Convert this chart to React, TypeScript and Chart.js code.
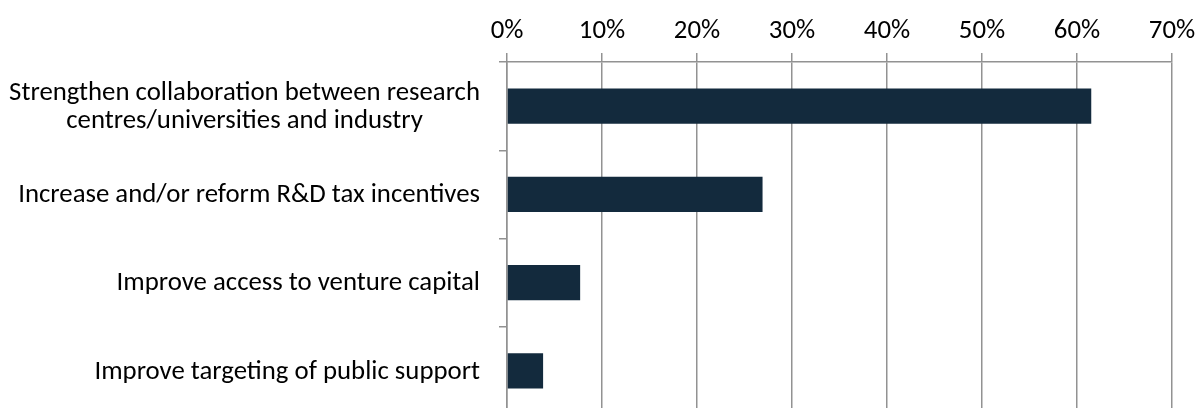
import React, { useEffect, useRef } from 'react';
import { Chart, registerables } from 'chart.js';

Chart.register(...registerables);

const categories: string[][] = [
  ['Strengthen collaboration between research', 'centres/universities and industry'],
  ['Increase and/or reform R&D tax incentives'],
  ['Improve access to venture capital'],
  ['Improve targeting of public support'],
];
const values: number[] = [61.5, 26.9, 7.7, 3.8];
const xMin = 0;
const xMax = 70;
const xStep = 10;

const FONT_FAMILY = 'Carlito, Calibri, "Open Sans", sans-serif';
const FONT_SIZE = 26.8;
const GRID = '#929292';
const BAR = '#132a3d';

const yLabelPlugin = {
  id: 'yLabelPlugin',
  afterDraw(chart: any) {
    const ctx = chart.ctx;
    const y = chart.scales.y;
    const right = chart.chartArea.left - 27;
    const lineH = 28;
    ctx.save();
    ctx.font = `${FONT_SIZE}px ${FONT_FAMILY}`;
    ctx.fillStyle = '#000';
    ctx.textBaseline = 'middle';
    ctx.textAlign = 'center';
    categories.forEach((lines, i) => {
      const cy = y.getPixelForValue(i) + 1;
      const maxW = Math.max(...lines.map((l) => ctx.measureText(l).width));
      const cx = right - maxW / 2;
      const start = cy - ((lines.length - 1) * lineH) / 2;
      lines.forEach((l, j) => ctx.fillText(l, cx, start + j * lineH));
    });
    ctx.restore();
  },
};

export default function App() {
  const ref = useRef<HTMLCanvasElement | null>(null);
  useEffect(() => {
    document.body.style.margin = '0';
    const chart = new Chart(ref.current as HTMLCanvasElement, {
      type: 'bar',
      data: {
        labels: categories.map((c) => c.join(' ')),
        datasets: [
          {
            data: values,
            backgroundColor: BAR,
            borderWidth: 0,
            categoryPercentage: 1,
            barPercentage: 0.4,
          },
        ],
      },
      options: {
        indexAxis: 'y',
        animation: false,
        responsive: false,
        maintainAspectRatio: false,
        layout: { padding: { left: 499, right: 26, top: 0, bottom: 3 } },
        plugins: { legend: { display: false }, tooltip: { enabled: false } },
        scales: {
          x: {
            position: 'top',
            min: xMin,
            max: xMax,
            afterFit: (s: any) => {
              s.height = 62;
              s.paddingLeft = 0;
              s.paddingRight = 0;
            },
            ticks: {
              stepSize: xStep,
              padding: 6,
              color: '#000',
              font: { family: FONT_FAMILY, size: FONT_SIZE },
              callback: (v: any) => `${v}%`,
            },
            grid: { color: GRID, lineWidth: 1.5, tickLength: 9 },
            border: { color: GRID, width: 1.5 },
          },
          y: {
            ticks: { display: false },
            grid: { offset: true, drawOnChartArea: false, color: GRID, lineWidth: 1.5, tickLength: 8 },
            border: { color: GRID, width: 1.5 },
          },
        },
      },
      plugins: [yLabelPlugin],
    });
    return () => chart.destroy();
  }, []);
  return (
    <div style={{ width: 1198, height: 408, overflow: 'hidden' }}>
      <canvas ref={ref} width={1198} height={418} style={{ display: 'block' }} />
    </div>
  );
}
